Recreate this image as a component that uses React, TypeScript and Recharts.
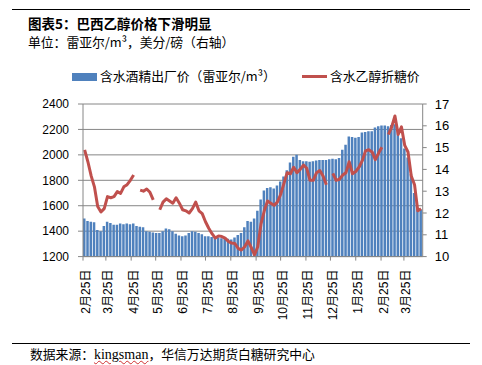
import React from 'react';
import { ComposedChart, Bar, Line, XAxis, YAxis, CartesianGrid } from 'recharts';

// one observation every 4 days, starting 2 days after 2月25日
const startDay = 2;
const stepDays = 4;

const barValues: number[] = [
  1500, 1480, 1475, 1470, 1410, 1400, 1440, 1475, 1465, 1450,
  1450, 1460, 1455, 1460, 1455, 1460, 1440, 1435, 1430, 1400,
  1395, 1390, 1385, 1385, 1400, 1420, 1415, 1400, 1380, 1365,
  1360, 1365, 1385, 1400, 1395, 1385, 1375, 1360, 1360, 1355,
  1355, 1350, 1345, 1340, 1340, 1335, 1350, 1370, 1385, 1430,
  1480, 1475, 1500, 1560, 1650, 1720, 1740, 1745, 1735, 1760,
  1790, 1830, 1880, 1940, 1985, 2000, 1960, 1950, 1950, 1945,
  1950, 1955, 1960, 1960, 1960, 1965, 1970, 1965, 1975, 2040,
  2080, 2145, 2140, 2135, 2140, 2175, 2180, 2185, 2185, 2215,
  2225, 2230, 2230, 2225, 2235, 2240, 2200, 2130, 2050, 1980,
  1850, 1700, 1580, 1570,
];

const lineValues: (number | null)[] = [
  14.9, 14.35, 13.7, 13.2, 12.3, 12.05, 12.2, 12.75, 12.7, 12.75,
  12.98, 12.9, 13.2, 13.3, 13.5, 13.74, null, 13.05, 13.0, 13.1,
  12.95, 12.6, null, 12.15, 12.5, 12.65, 12.55, 12.45, 12.7, 12.45,
  12.15, 12.1, 12.0, 12.2, 12.5, 12.1, 11.97, 11.6, 11.3, 11.05,
  10.85, 10.95, 10.92, 10.85, 10.7, 10.62, 10.6, 10.38, 10.3, 10.45,
  10.72, 10.42, 10.08, 10.45, 11.5, 12.1, 12.55, 12.45, 12.35, 12.5,
  12.85, 13.35, 13.85, 13.8, 14.1, 13.85, 14.0, 14.2, 14.05, 13.5,
  13.5, 13.85, 13.95, 13.7, 13.3, null, 13.82, 13.5, 13.55, 13.74,
  13.85, 14.35, 13.8, 13.9, 14.1, 14.4, 14.85, 14.9, 14.8, 14.45,
  14.75, 15.02, null, 15.6, 15.95, 16.45, 15.6, 15.95, 15.1, 14.8,
  13.7, 13.3, 12.1, 12.2,
];

const tickDays = [0, 28, 59, 89, 120, 150, 181, 212, 242, 273, 303, 334, 365, 393];
const tickLabels = [
  '2月25日', '3月25日', '4月25日', '5月25日', '6月25日', '7月25日', '8月25日',
  '9月25日', '10月25日', '11月25日', '12月25日', '1月25日', '2月25日', '3月25日',
];
const leftTicks = [1200, 1400, 1600, 1800, 2000, 2200, 2400];
const rightTicks = [10, 11, 12, 13, 14, 15, 16, 17];

const data = barValues.map((v, i) => ({
  day: startDay + stepDays * i,
  bar: v,
  line: lineValues[i],
}));

const tickFont = "'Liberation Sans', Arial, 'Noto Sans CJK SC', sans-serif";
const cjkFont = "'Noto Sans CJK SC', 'Liberation Sans', sans-serif";
const axisGray = '#868686';

const XTick = (props: any) => {
  const { x, y, payload } = props;
  const idx = tickDays.indexOf(payload.value);
  return (
    <text
      x={0}
      y={0}
      transform={`translate(${x + 2.5},${y}) rotate(-90)`}
      textAnchor="end"
      dominantBaseline="central"
      fontSize={12}
      fontFamily={tickFont}
      fill="#000"
    >
      {idx >= 0 ? tickLabels[idx] : ''}
    </text>
  );
};

export default function App() {
  return (
    <div
      style={{
        position: 'absolute',
        left: 0,
        top: 0,
        width: 482,
        height: 365,
        background: '#fff',
        overflow: 'hidden',
        fontFamily: cjkFont,
        color: '#000',
      }}
    >
      <div style={{ position: 'absolute', left: 12, top: 9, width: 458, height: 1, background: '#000' }} />
      <div
        style={{
          position: 'absolute', left: 28, top: 15, height: 16, lineHeight: '16px', fontSize: 13.5,
          fontWeight: 'bold', whiteSpace: 'nowrap',
        }}
      >
        图表5：巴西乙醇价格下滑明显
      </div>
      <div
        style={{
          position: 'absolute', left: 28, top: 35, height: 14, lineHeight: '14px', fontSize: 12.8, whiteSpace: 'nowrap',
        }}
      >
        单位：雷亚尔/m³，美分/磅（右轴）
      </div>

      {/* legend */}
      <div style={{ position: 'absolute', left: 72, top: 72.5, width: 25, height: 8, background: '#4F81BD' }} />
      <div style={{ position: 'absolute', left: 100, top: 68, lineHeight: '16px', fontSize: 12.8, whiteSpace: 'nowrap' }}>
        含水酒精出厂价（雷亚尔/m³）
      </div>
      <div style={{ position: 'absolute', left: 302, top: 75, width: 25, height: 2.5, background: '#C0504D' }} />
      <div style={{ position: 'absolute', left: 330, top: 68, lineHeight: '16px', fontSize: 12.8, whiteSpace: 'nowrap' }}>
        含水乙醇折糖价
      </div>

      <div style={{ position: 'absolute', left: 0, top: 0 }}>
        <ComposedChart
          width={482}
          height={365}
          data={data}
          margin={{ top: 104, right: 19.3, bottom: 48.4, left: 33 }}
        >
          <CartesianGrid yAxisId="left" vertical={false} stroke={axisGray} strokeWidth={1} />
          <XAxis
            dataKey="day"
            type="number"
            domain={[0, 416]}
            allowDataOverflow
            ticks={tickDays}
            interval={0}
            height={60}
            tickSize={4}
            tickMargin={9}
            tick={<XTick />}
            axisLine={{ stroke: axisGray }}
            tickLine={{ stroke: axisGray }}
          />
          <YAxis
            yAxisId="left"
            orientation="left"
            domain={[1200, 2400]}
            ticks={leftTicks}
            interval={0}
            width={50}
            tickSize={5}
            tickMargin={9}
            tick={{ fontSize: 12, fill: '#000', fontFamily: tickFont }}
            axisLine={{ stroke: axisGray }}
            tickLine={{ stroke: axisGray }}
          />
          <YAxis
            yAxisId="right"
            orientation="right"
            domain={[10, 17]}
            ticks={rightTicks}
            interval={0}
            width={40}
            tickSize={4}
            tickMargin={8}
            tick={{ fontSize: 13, fill: '#000', fontFamily: tickFont }}
            axisLine={{ stroke: axisGray }}
            tickLine={{ stroke: axisGray }}
          />
          <Bar yAxisId="left" dataKey="bar" fill="#4F81BD" barSize={2.5} isAnimationActive={false} />
          <Line
            yAxisId="right"
            type="linear"
            dataKey="line"
            stroke="#C0504D"
            strokeWidth={3}
            strokeLinejoin="round"
            dot={false}
            activeDot={false}
            isAnimationActive={false}
          />
        </ComposedChart>
      </div>

      <div style={{ position: 'absolute', left: 12, top: 343, width: 458, height: 1, background: '#000' }} />
      <div style={{ position: 'absolute', left: 30, top: 346, lineHeight: '16px', fontSize: 12.8, whiteSpace: 'nowrap' }}>
        数据来源：
        <span
          style={{
            fontFamily: "'Liberation Serif', 'Times New Roman', serif",
            fontSize: 14,
            textDecoration: 'underline wavy #d03030',
            textDecorationThickness: 1,
          }}
        >
          kingsman
        </span>
        ，华信万达期货白糖研究中心
      </div>
    </div>
  );
}
